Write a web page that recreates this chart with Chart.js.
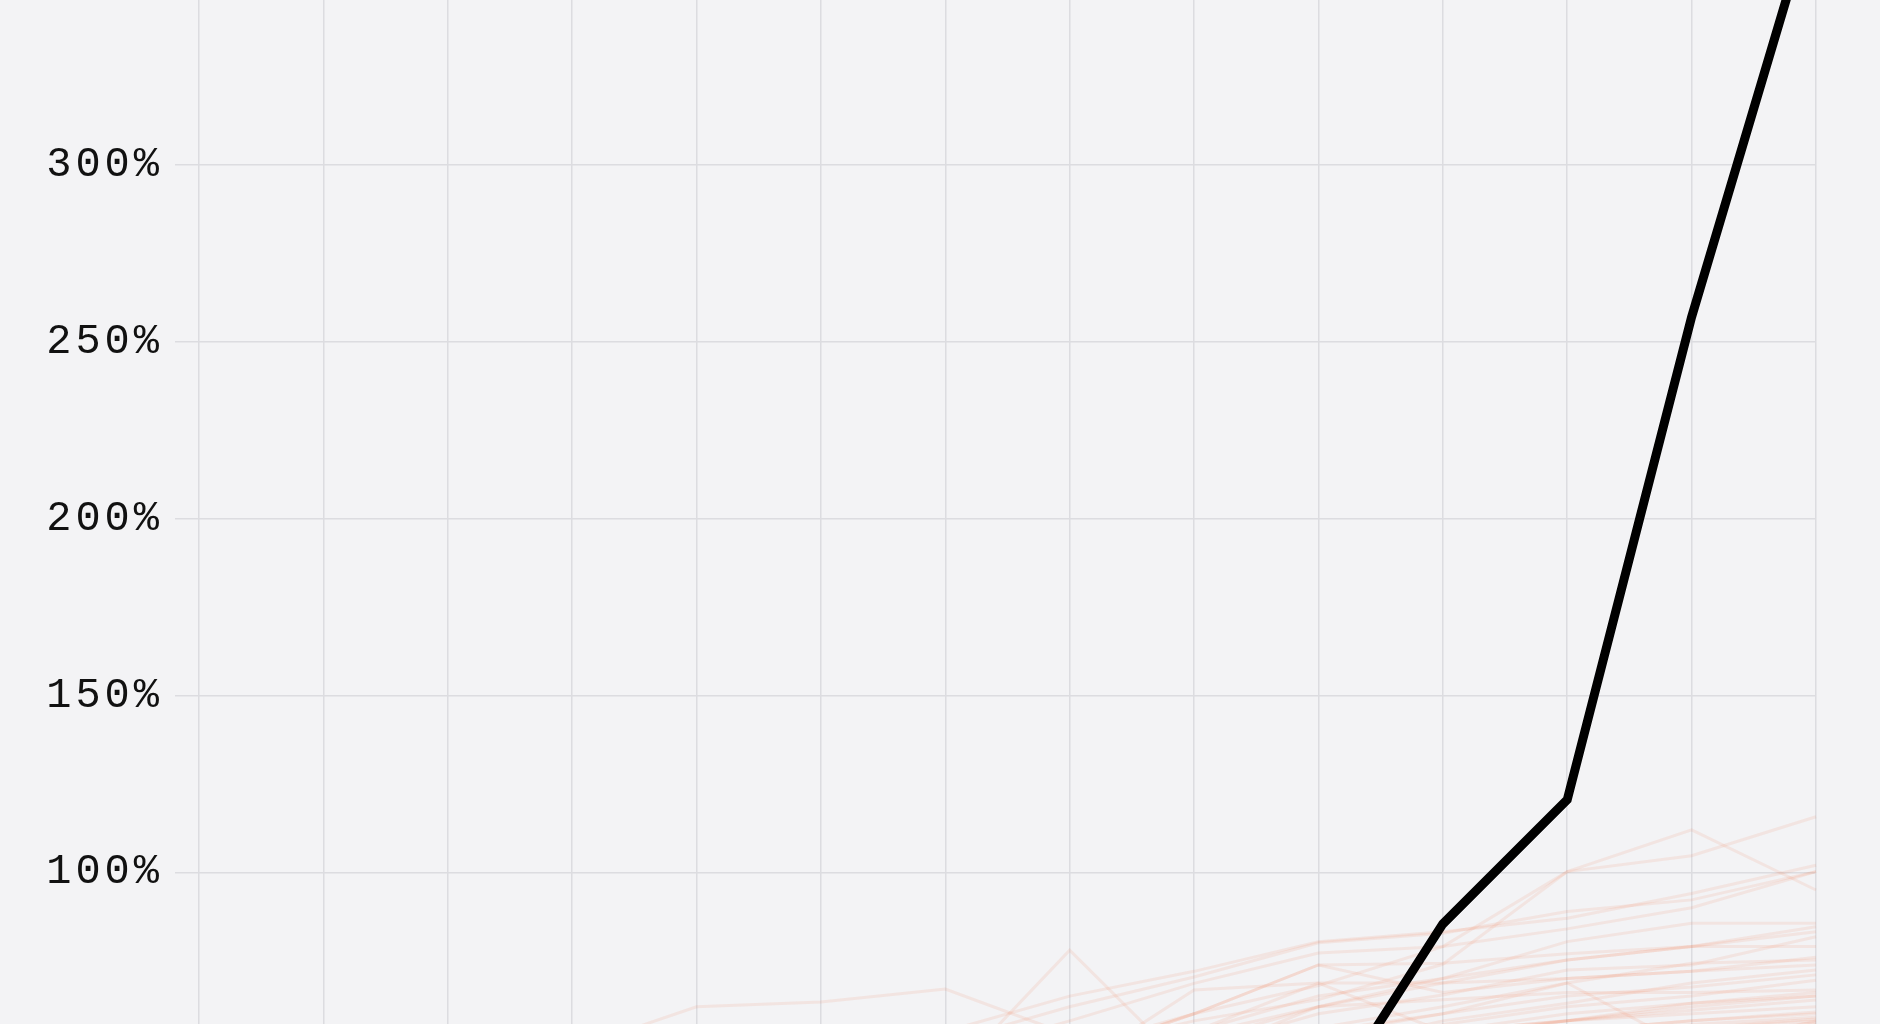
<!DOCTYPE html>
<html>
<head>
<meta charset="utf-8">
<script src="https://cdn.jsdelivr.net/npm/chart.js@4.4.1/dist/chart.umd.min.js"></script>
<style>
  html, body { margin: 0; padding: 0; background: #f3f3f5; overflow: hidden; width: 1880px; height: 1024px; }
  #wrap { position: absolute; left: 0; top: -226px; width: 1880px; height: 1552px; }
</style>
</head>
<body>
<div id="wrap"><canvas id="chartGrowth"></canvas></div>
<script>
// categories (x axis sits below the visible frame)
var years = ['2010', '2011', '2012', '2013', '2014', '2015', '2016', '2017', '2018', '2019', '2020', '2021', '2022', '2023'];

// highlighted series
var mainSeries = [0, 4, 8, 11, 14, 17, 20, 24, 27, 30.6, 85.4, 120.5, 257, 375];

// background series (lower parts fall outside the frame)
var others = [
  [20, 30, 40, 50, 62, 63.3, 67, 54, 48, 50, 52, 55, 58, 60],
  [10, 15, 20, 25, 30, 35, 41, 78, 43, 50, 55, 60, 63, 66],
  [5, 10, 15, 20, 25, 30, 40, 50, 60, 68, 79, 100.2, 112, 95],
  [8, 12, 18, 22, 28, 35, 42, 50, 58, 64, 74, 100.2, 104.7, 115.7],
  [10, 15, 20, 30, 35, 45, 55, 65, 72, 80.4, 83.2, 87, 94, 102],
  [12, 18, 22, 28, 34, 40, 52, 62, 70.4, 80.1, 82.8, 88.9, 92.2, 100.2],
  [6, 10, 14, 20, 26, 32, 48, 58, 68.6, 77.2, 79, 84, 90, 100.2],
  [4, 8, 12, 18, 22, 28, 35, 45, 55, 65, 70, 80.4, 85.6, 85.6],
  [5, 9, 14, 19, 24, 30, 38, 46, 54, 62, 68.7, 75.2, 79, 84.6],
  [7, 11, 16, 21, 27, 33, 40, 48, 60, 73.8, 74.3, 77, 79, 83.2],
  [3, 6, 10, 15, 20, 26, 33, 40, 50, 60, 65.3, 72.4, 73.8, 81.8],
  [5, 9, 13, 18, 23, 28, 34, 42, 52, 62, 70, 75.2, 79, 79],
  [4, 8, 12, 16, 21, 27, 32, 40, 48, 56, 62, 68.7, 74.3, 75.2],
  [6, 9, 13, 17, 22, 27, 33, 44, 66.7, 68.7, 68.7, 70, 72, 73.8],
  [2, 5, 9, 13, 18, 23, 28, 35, 42, 50, 58, 63, 68.7, 72.4],
  [3, 6, 10, 14, 19, 24, 30, 38, 47, 55, 60, 65, 67.6, 71],
  [4, 7, 11, 15, 20, 25, 31, 38, 45, 52, 57, 62, 65, 69.5],
  [5, 8, 12, 16, 20, 26, 32, 40, 48, 62, 64, 66, 66, 66.7],
  [2, 4, 8, 12, 16, 21, 27, 33, 40, 47, 53, 58, 63, 65],
  [3, 6, 9, 13, 17, 22, 28, 34, 41, 48, 54, 58, 61, 63.9],
  [4, 7, 10, 14, 18, 23, 29, 36, 43, 50, 55, 58, 60, 62],
  [1, 4, 7, 11, 15, 20, 25, 31, 37, 44, 50, 55, 58, 60.5],
  [2, 5, 8, 12, 16, 20, 26, 32, 38, 45, 51, 55, 57, 59],
  [3, 6, 9, 12, 15, 19, 24, 30, 36, 43, 49, 53, 56, 58],
  [4, 8, 12, 17, 22, 28, 34, 40, 48, 54, 60, 68.7, 50, 55],
  [6, 10, 15, 20, 26, 32, 40, 48, 60, 73.8, 66, 70, 72, 76],
  [5, 9, 13, 18, 24, 30, 38, 45, 55, 68.7, 55, 58, 62, 65],
  [2, 5, 8, 11, 14, 18, 22, 27, 33, 40, 46, 52, 56, 58.5],
  [1, 3, 6, 9, 13, 17, 21, 26, 32, 38, 44, 50, 54, 57.5],
  [2, 4, 7, 10, 13, 16, 20, 25, 30, 36, 42, 48, 53, 57],
  [3, 5, 8, 11, 14, 18, 23, 28, 34, 40, 45, 49, 52, 55],
  [1, 3, 5, 8, 11, 14, 18, 22, 27, 32, 38, 44, 50, 58]
];

var yTicks = [0, 50, 100, 150, 200, 250, 300, 350, 400];

var datasets = [{
  data: mainSeries,
  borderColor: '#000000',
  borderWidth: 9,
  borderJoinStyle: 'miter',
  pointRadius: 0,
  tension: 0
}];
for (var i = 0; i < others.length; i++) {
  datasets.push({
    data: others[i],
    borderColor: 'rgba(238, 130, 95, 0.13)',
    borderWidth: 3,
    pointRadius: 0,
    tension: 0
  });
}

var spacing = {
  id: 'spacing',
  beforeDraw: function (chart) { chart.ctx.letterSpacing = '4px'; }
};

new Chart(document.getElementById('chartGrowth'), {
  type: 'line',
  data: { labels: years, datasets: datasets },
  plugins: [spacing],
  options: {
    responsive: true,
    maintainAspectRatio: false,
    animation: false,
    layout: { padding: { top: 31, right: 64, left: 0, bottom: 0 } },
    plugins: { legend: { display: false }, tooltip: { enabled: false } },
    scales: {
      x: {
        offset: false,
        grid: { color: '#dcdce0', lineWidth: 1.5, drawTicks: false },
        border: { display: false },
        ticks: { display: false },
        afterFit: function (scale) { scale.height = 100; }
      },
      y: {
        min: yTicks[0],
        max: yTicks[yTicks.length - 1],
        afterBuildTicks: function (scale) {
          scale.ticks = yTicks.map(function (v) { return { value: v }; });
        },
        grid: { color: '#dcdce0', lineWidth: 1.5, tickLength: 24 },
        border: { display: false },
        ticks: {
          color: '#111111',
          padding: 12,
          font: { family: 'Liberation Mono', size: 42 },
          callback: function (v) { return v + '%'; }
        },
        afterFit: function (scale) { scale.width = 199; }
      }
    }
  }
});
</script>
</body>
</html>
